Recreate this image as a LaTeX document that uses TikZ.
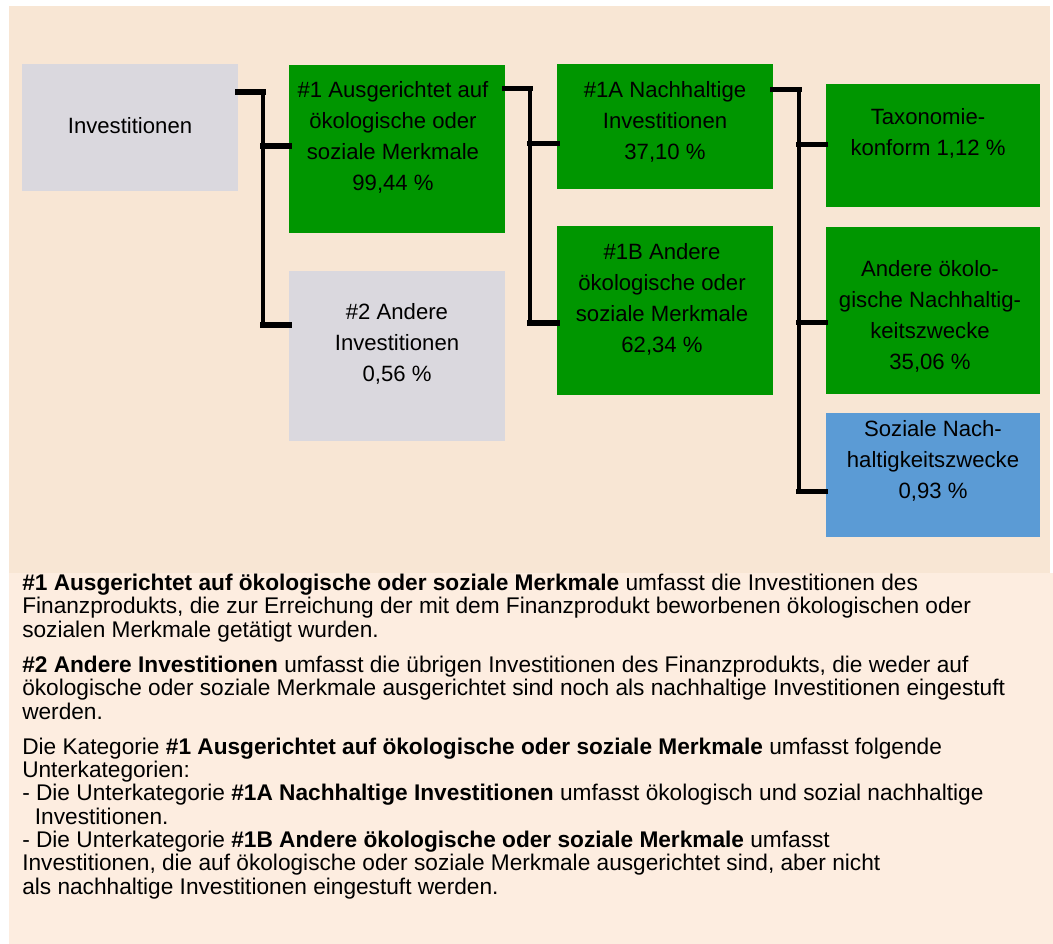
\documentclass[tikz,border=0pt]{standalone}
\usepackage{fontspec}
\setmainfont{Liberation Sans}

\definecolor{peach}{RGB}{248,230,212}
\definecolor{cream}{RGB}{253,237,224}
\definecolor{boxgrey}{RGB}{218,216,222}
\definecolor{boxgreen}{RGB}{0,150,0}
\definecolor{boxblue}{RGB}{91,155,213}

\tikzset{
  box/.style={fill=#1, minimum width=161.4pt, inner sep=0pt},
  txt/.style={align=center, font=\fontsize{16.6}{23.25}\selectfont},
  note/.style={align=left, anchor=base west, inner sep=0pt, font=\fontsize{17}{17.5}\selectfont},
  stub/.style={line width=4pt, line cap=rect},
  rail/.style={line width=2.5pt, line cap=rect},
}

\begin{document}
\begin{tikzpicture}[x=0.75pt, y=-0.75pt]
            \useasboundingbox (0,0) rectangle (1053,944);
            \fill[peach] (9,6) rectangle (1050,573);
            \fill[cream] (9,573) rectangle (1053,944);

            % rails between the levels
            \coordinate (r1) at (263,0);
            \coordinate (r2) at (530,0);
            \coordinate (r3) at (799,0);

            % boxes
            \node[box=boxgrey, minimum height=94.8pt] (inv) at (130,127.5) {};
            \node[box=boxgreen, minimum height=125.8pt] (a1) at (397,149) {};
            \node[box=boxgrey, minimum height=127.5pt] (a2) at (397,355.7) {};
            \node[box=boxgreen, minimum height=93.3pt] (b1) at (665,126.5) {};
            \node[box=boxgreen, minimum height=126.8pt] (b2) at (665,310.2) {};
            \node[box=boxgreen, minimum width=160.5pt, minimum height=91.8pt] (c1) at (933,145.5) {};
            \node[box=boxgreen, minimum width=160.5pt, minimum height=125.5pt] (c2) at (933,310.4) {};
            \node[box=boxblue, minimum width=160.5pt, minimum height=92.6pt] (c3) at (933,475) {};

            % connectors
            \draw[rail] (r1 |- 0,92) -- (r1 |- 0,325);
            \draw[stub] (inv.east |- 0,92) -- (r1 |- 0,92);
            \draw[stub] (r1 |- 0,146) -- (a1.west |- 0,146);
            \draw[stub] (r1 |- 0,325) -- (a2.west |- 0,325);

            \draw[rail] (r2 |- 0,88.5) -- (r2 |- 0,323);
            \draw[stub] (a1.east |- 0,88.5) -- (r2 |- 0,88.5);
            \draw[stub] (r2 |- 0,143.5) -- (b1.west |- 0,143.5);
            \draw[stub] (r2 |- 0,323) -- (b2.west |- 0,323);

            \draw[rail] (r3 |- 0,89.3) -- (r3 |- 0,491.7);
            \draw[stub] (b1.east |- 0,89.3) -- (r3 |- 0,89.3);
            \draw[stub] (r3 |- 0,144.3) -- (c1.west |- 0,144.3);
            \draw[stub] (r3 |- 0,322.7) -- (c2.west |- 0,322.7);
            \draw[stub] (r3 |- 0,491.7) -- (c3.west |- 0,491.7);

            % box texts
            \node[txt] (invt) at (130,126) {Investitionen};
            \node[txt] (a1t) at (393,137) {\#1 Ausgerichtet auf\\ökologische oder\\soziale Merkmale\\99,44 \%};
            \node[txt] (a2t) at (397,344) {\#2 Andere\\Investitionen\\0,56 \%};
            \node[txt] (b1t) at (665,121.7) {\#1A Nachhaltige\\Investitionen\\37,10 \%};
            \node[txt] (b2t) at (662,299) {\#1B Andere\\ökologische oder\\soziale Merkmale\\62,34 \%};
            \node[txt] (c1t) at (928,133.5) {Taxonomie-\\konform 1,12 \%};
            \node[txt] (c2t) at (930,316) {Andere ökolo-\\gische Nachhaltig-\\keitszwecke\\35,06 \%};
            \node[txt] (c3t) at (933,460.6) {Soziale Nach-\\haltigkeitszwecke\\0,93 \%};

            % notes below (base = last line)
            \node[note] (n1) at (22,637) {\textbf{\#1 Ausgerichtet auf ökologische oder soziale Merkmale} umfasst die Investitionen des\\Finanzprodukts, die zur Erreichung der mit dem Finanzprodukt beworbenen ökologischen oder\\sozialen Merkmale getätigt wurden.};
            \node[note] (n2) at (22,719) {\textbf{\#2 Andere Investitionen} umfasst die übrigen Investitionen des Finanzprodukts, die weder auf\\ökologische oder soziale Merkmale ausgerichtet sind noch als nachhaltige Investitionen eingestuft\\werden.};
            \node[note] (n3) at (22,894) {Die Kategorie \textbf{\#1 Ausgerichtet auf ökologische oder soziale Merkmale} umfasst folgende\\Unterkategorien:\\- Die Unterkategorie \textbf{\#1A Nachhaltige Investitionen} umfasst ökologisch und sozial nachhaltige\\\hspace*{9.5pt}Investitionen.\\- Die Unterkategorie \textbf{\#1B Andere ökologische oder soziale Merkmale} umfasst\\Investitionen, die auf ökologische oder soziale Merkmale ausgerichtet sind, aber nicht\\als nachhaltige Investitionen eingestuft werden.};
        \end{tikzpicture}
\end{document}
